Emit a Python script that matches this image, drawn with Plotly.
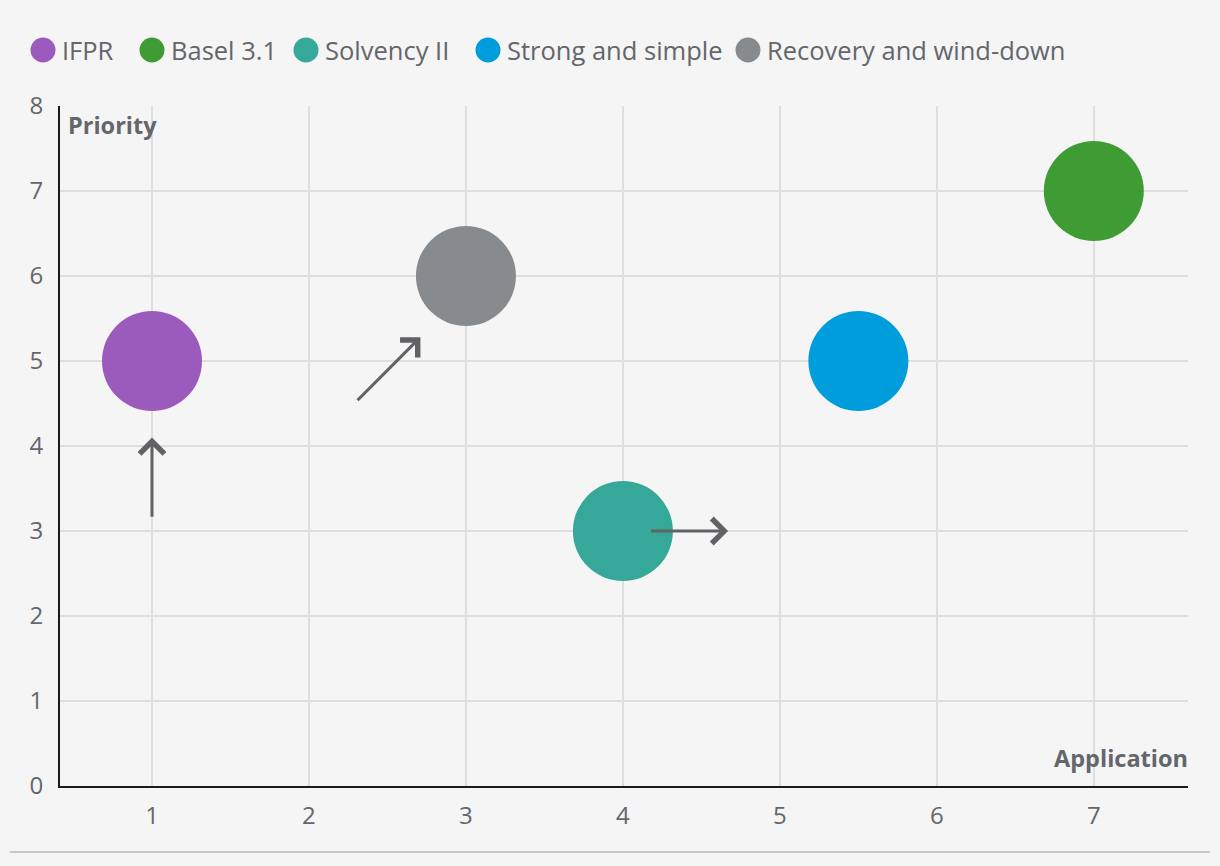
import plotly.graph_objects as go

# --- data -------------------------------------------------------------
names = ["IFPR", "Basel 3.1", "Solvency II", "Strong and simple", "Recovery and wind-down"]
application = [1, 7, 4, 5.5, 3]
priority = [5, 7, 3, 5, 6]
colours = ["#9B5BBD", "#3F9C35", "#35A899", "#009DDC", "#888B8D"]

# direction-of-travel arrows (tail -> head), data units
arrow_x0 = [1.0, 2.30, 4.17]
arrow_y0 = [3.15, 4.52, 3.0]
arrow_x1 = [1.0, 2.71, 4.67]
arrow_y1 = [4.10, 5.28, 3.0]

# legend item anchor positions (px from left)
legend_x = [43, 152, 306, 488, 748]

BG = "#F5F5F5"
TEXT = "#63666A"
GRID = "#DEDEDE"
FONT = "Open Sans, sans-serif"

L, R, T, B = 60, 32, 106, 80
W, H = 1220, 866
PW, PH = W - L - R, H - T - B

fig = go.Figure()
for n, x, y, c in zip(names, application, priority, colours):
    fig.add_trace(go.Scatter(x=[x], y=[y], mode="markers", name=n, showlegend=False,
                             marker=dict(size=100, color=c, line=dict(width=0), opacity=1),
                             hoverinfo="name"))

for x0, y0, x1, y1 in zip(arrow_x0, arrow_y0, arrow_x1, arrow_y1):
    fig.add_annotation(x=x1, y=y1, ax=x0, ay=y0, xref="x", yref="y", axref="x", ayref="y",
                       text="", showarrow=True, arrowhead=4, arrowsize=1.6, arrowwidth=3,
                       arrowcolor="#606266", standoff=0)

# hand-built legend so the dots can be as large as the reference's
for n, c, px in zip(names, colours, legend_x):
    xp = (px - L) / PW
    yp = (H - B - 50) / PH
    fig.add_shape(type="circle", xref="paper", yref="paper", xsizemode="pixel", ysizemode="pixel",
                  xanchor=xp, yanchor=yp, x0=-12.5, x1=12.5, y0=-12.5, y1=12.5,
                  fillcolor=c, line=dict(width=0))
    fig.add_annotation(x=xp, y=yp, xref="paper", yref="paper", text=n, showarrow=False,
                       xanchor="left", yanchor="middle", xshift=17,
                       font=dict(family=FONT, size=25.5, color=TEXT))

fig.add_annotation(x=0, y=1, xref="paper", yref="paper", text="<b>Priority</b>", showarrow=False,
                   xanchor="left", yanchor="top", xshift=6, yshift=-1,
                   font=dict(family=FONT, size=23.5, color=TEXT))
fig.add_annotation(x=1, y=0, xref="paper", yref="paper", text="<b>Application</b>", showarrow=False,
                   xanchor="right", yanchor="bottom", xshift=2, yshift=10,
                   font=dict(family=FONT, size=23.5, color=TEXT))

# bottom separator rule
fig.add_shape(type="line", xref="paper", yref="paper",
              x0=(10 - L) / PW, x1=(1210 - L) / PW, y0=-(852 - (H - B)) / PH, y1=-(852 - (H - B)) / PH,
              line=dict(color="#C8C8C8", width=2))

fig.update_layout(
    width=W, height=H,
    paper_bgcolor=BG, plot_bgcolor=BG,
    margin=dict(l=L, r=R, t=T, b=B, pad=0),
    font=dict(family=FONT, size=24, color=TEXT),
    showlegend=False,
    xaxis=dict(range=[0.414, 7.6], tickmode="array", tickvals=[1, 2, 3, 4, 5, 6, 7],
               showgrid=True, gridcolor=GRID, gridwidth=2, zeroline=False,
               showline=True, linecolor="#1A1A1A", linewidth=2, ticks="", ticklabelstandoff=7,
               fixedrange=True),
    yaxis=dict(range=[0, 8], tickmode="array", tickvals=[0, 1, 2, 3, 4, 5, 6, 7, 8],
               showgrid=True, gridcolor=GRID, gridwidth=2, zeroline=False,
               showline=True, linecolor="#1A1A1A", linewidth=2, ticks="", ticklabelstandoff=10,
               fixedrange=True),
)

fig.write_html("out.html", config={"displayModeBar": False},
               post_script="document.body.style.margin='0';document.body.style.background='#F5F5F5';")
